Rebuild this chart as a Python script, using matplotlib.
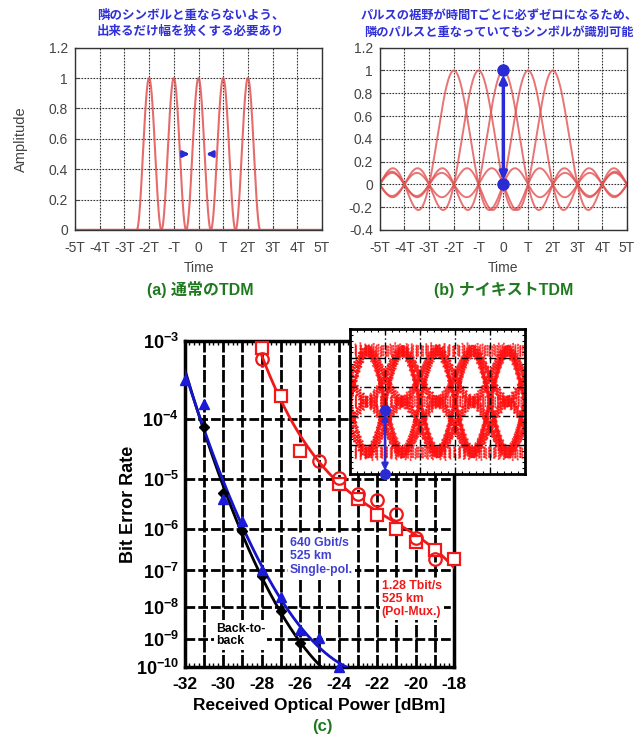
import numpy as np
import matplotlib
matplotlib.use('Agg')
import matplotlib.pyplot as plt
from matplotlib.ticker import FixedLocator, NullLocator, MultipleLocator

plt.rcParams['font.family'] = ['Liberation Sans', 'Noto Sans CJK JP', 'DejaVu Sans']
plt.rcParams['mathtext.fontset'] = 'custom'
plt.rcParams['mathtext.rm'] = 'Liberation Sans'
plt.rcParams['mathtext.bf'] = 'Liberation Sans:bold'

# ---------------- data: panels (a) and (b) ----------------
pulse_centers = [-2, -1, 0, 1, 2]
time_ticks = [-5, -4, -3, -2, -1, 0, 1, 2, 3, 4, 5]
time_labels = ['-5T', '-4T', '-3T', '-2T', '-T', '0', 'T', '2T', '3T', '4T', '5T']
a_yticks = [0, 0.2, 0.4, 0.6, 0.8, 1, 1.2]
a_ylabels = ['0', '0.2', '0.4', '0.6', '0.8', '1', '1.2']
b_yticks = [-0.4, -0.2, 0, 0.2, 0.4, 0.6, 0.8, 1, 1.2]
b_ylabels = ['-0.4', '-0.2', '0', '0.2', '0.4', '0.6', '0.8', '1', '1.2']
pulse_halfwidth = 0.5
nyquist_period = 10
note_a = ['隣のシンボルと重ならないよう、', '出来るだけ幅を狭くする必要あり']
note_b = ['パルスの裾野が時間Tごとに必ずゼロになるため、', '隣のパルスと重なっていてもシンボルが識別可能']
caption_a = '(a) 通常のTDM'
caption_b = '(b) ナイキストTDM'

# ---------------- data: panel (c) ----------------
power_b2b = [-31, -30, -29, -28, -27, -26]
ber_b2b = [7.6e-5, 5.4e-6, 8.9e-7, 7.4e-8, 7.4e-9, 7.0e-10]
power_sp = [-32, -31, -30, -29, -28, -27, -26, -25, -24]
ber_sp = [3.4e-4, 1.6e-4, 4.2e-6, 1.5e-6, 1.0e-7, 1.9e-8, 1.9e-9, 1.07e-9, 1.0e-10]
power_pm_sq = [-28, -27, -26, -24, -23, -22, -21, -20, -19, -18]
ber_pm_sq = [8.3e-4, 2.06e-4, 3.1e-5, 8.3e-6, 4.2e-6, 2.0e-6, 1.0e-6, 4.9e-7, 3.2e-7, 2.0e-7]
power_pm_ci = [-28, -25, -24, -23, -22, -21, -20, -19]
ber_pm_ci = [6.2e-4, 2.07e-5, 1.05e-5, 5.3e-6, 4.0e-6, 2.1e-6, 6.3e-7, 2.0e-7]
power_ticks = [-32, -30, -28, -26, -24, -22, -20, -18]
ber_exponents = [-3, -4, -5, -6, -7, -8, -9, -10]
eye_symbols = [0, 0, 0, 1, 0, 0, 2, 0, 1, 1, 0, 1, 2, 0, 2, 1, 0, 2, 2, 1, 1, 1, 2, 1, 2, 2, 2]
eye_window = 5

RED = '#e25252'
BLUE_T = '#3030d8'
GREEN = '#1f7a1f'
GRAY = '#444444'

fig = plt.figure(figsize=(6.44, 7.40), dpi=100)

def fx(px):
    return px / 644.0

def fy(py):
    return 1 - py / 740.0

# ---------------- top panels ----------------
t = np.linspace(-5, 5, 2001)
axa = fig.add_axes([fx(75), fy(230), fx(247), (230 - 47.7) / 740])
axb = fig.add_axes([fx(379.7), fy(230), fx(247.3), (230 - 47.7) / 740])

for c in pulse_centers:
    d = t - c
    ya = np.where(np.abs(d) < pulse_halfwidth, np.cos(np.pi * d / (2 * pulse_halfwidth)) ** 2, 0.0)
    axa.plot(t, ya, color=RED, lw=1.5, alpha=0.85)
    s = np.sin(np.pi * d)
    den = nyquist_period * np.sin(np.pi * d / nyquist_period)
    yb = np.where(np.abs(den) < 1e-9, 1.0, s / np.where(np.abs(den) < 1e-9, 1, den))
    axb.plot(t, yb, color=RED, lw=1.4, alpha=0.8)

for ax, yt, yl, ylim in [(axa, a_yticks, a_ylabels, (0, 1.2)), (axb, b_yticks, b_ylabels, (-0.4, 1.2))]:
    ax.set_xlim(-5, 5)
    ax.set_ylim(*ylim)
    ax.set_xticks(time_ticks)
    ax.set_xticklabels(time_labels)
    ax.set_yticks(yt)
    ax.set_yticklabels(yl)
    ax.tick_params(direction='in', length=3, colors=GRAY, labelsize=10)
    ax.tick_params(axis='x', pad=8)
    ax.tick_params(axis='y', pad=5)
    ax.grid(True, color='#333333', lw=0.8, linestyle=(0, (1.5, 1.2)))
    for sp in ax.spines.values():
        sp.set_color('#333333')
        sp.set_linewidth(1.0)
    ax.set_xlabel('Time', color=GRAY, fontsize=10, labelpad=4)

axa.set_ylabel('Amplitude', color=GRAY, fontsize=10.5, labelpad=15)

axa.annotate('', xy=(-0.25, 0.5), xytext=(-0.72, 0.5),
             arrowprops=dict(arrowstyle='-|>', color='#2b2bd6', lw=2, mutation_scale=9))
axa.annotate('', xy=(0.2, 0.5), xytext=(0.66, 0.5),
             arrowprops=dict(arrowstyle='-|>', color='#2b2bd6', lw=2, mutation_scale=9))

axb.annotate('', xy=(0, 0.985), xytext=(0, 0.015),
             arrowprops=dict(arrowstyle='<|-|>', color='#2b2bd6', lw=2.5, mutation_scale=11))
axb.plot([0, 0], [0, 1], 'o', color='#2b2bd6', ms=8, zorder=5)

for i, line in enumerate(note_a):
    fig.text(fx(191), fy(15 + 16.5 * i), line, ha='center', va='center', color=BLUE_T,
             fontsize=9.0, fontweight='bold', family=['Noto Sans CJK JP', 'DejaVu Sans'])
for i, line in enumerate(note_b):
    fig.text(fx(499), fy(15 + 17.0 * i), line, ha='center', va='center', color=BLUE_T,
             fontsize=8.8, fontweight='bold', family=['Noto Sans CJK JP', 'DejaVu Sans'])

fig.text(fx(200), fy(290), caption_a, ha='center', va='center', color=GREEN,
         fontsize=11.5, fontweight='bold', family=['Liberation Sans', 'Noto Sans CJK JP'])
fig.text(fx(504), fy(290), caption_b, ha='center', va='center', color=GREEN,
         fontsize=11.5, fontweight='bold', family=['Liberation Sans', 'Noto Sans CJK JP'])

# ---------------- panel (c) ----------------
def fwd(x):
    x = np.clip(np.asarray(x, dtype=float), 1e-300, 0.999999)
    return -np.log10(-np.log10(x))

def inv(y):
    return 10.0 ** (-(10.0 ** (-np.asarray(y, dtype=float))))

axc = fig.add_axes([fx(184.5), fy(667.3), fx(269.5), (667.3 - 340.5) / 740])
axc.set_yscale('function', functions=(fwd, inv))
axc.set_xlim(-32, -18)
axc.set_ylim(1e-10, 1e-3)

for xv in range(-31, -18):
    axc.axvline(xv, color='black', lw=2, linestyle=(0, (4.5, 0.9)), zorder=1)
for e in ber_exponents[1:-1]:
    axc.axhline(10.0 ** e, color='black', lw=2, linestyle=(0, (3.5, 1.1)), zorder=1)

def fit_curve(px, py, deg, x0, x1):
    g = np.log10(-np.log10(np.asarray(py)))
    coef = np.polyfit(px, g, deg)
    xs = np.linspace(x0, x1, 300)
    gs = np.polyval(coef, xs)
    return xs, 10.0 ** (-(10.0 ** gs))

xs, ys = fit_curve(power_b2b, ber_b2b, 2, -32.3, -24)
axc.plot(xs, ys, color='black', lw=2, zorder=3)
axc.plot(power_b2b, ber_b2b, 'D', color='black', ms=5.5, zorder=4, clip_on=False)

xs, ys = fit_curve(power_sp, ber_sp, 2, -32, -23.5)
axc.plot(xs, ys, color='#1414c8', lw=2, zorder=3)
axc.plot(power_sp, ber_sp, '^', color='#1a1ad8', ms=7, zorder=4, clip_on=False)

xs, ys = fit_curve(power_pm_sq + power_pm_ci, ber_pm_sq + ber_pm_ci, 3, -28, -18)
axc.plot(xs, ys, color='#f01818', lw=2, zorder=3)
axc.plot(power_pm_sq, ber_pm_sq, 's', mfc='white', mec='#f01818', mew=1.6, ms=8, zorder=4, clip_on=False)
axc.plot(power_pm_ci, ber_pm_ci, 'o', mfc='none', mec='#f01818', mew=1.6, ms=9, zorder=4, clip_on=False)

axc.xaxis.set_major_locator(FixedLocator(power_ticks))
axc.xaxis.set_minor_locator(MultipleLocator(0.25))
axc.set_xticklabels([str(v) for v in power_ticks])
axc.yaxis.set_major_locator(FixedLocator([10.0 ** e for e in ber_exponents]))
axc.yaxis.set_minor_locator(NullLocator())
axc.set_yticklabels([r'$\mathbf{10^{%d}}$' % e for e in ber_exponents])
axc.tick_params(axis='x', which='major', direction='in', length=0, labelsize=12.5, pad=7, top=False)
axc.tick_params(axis='x', which='minor', direction='in', length=3, width=1, top=True, bottom=True)
axc.tick_params(axis='y', which='major', direction='in', length=0, labelsize=13, pad=4)
for lab in axc.get_xticklabels():
    lab.set_fontweight('bold')
for sp in axc.spines.values():
    sp.set_linewidth(2.5)

axc.set_xlabel('Received Optical Power [dBm]', fontsize=12.5, fontweight='bold', labelpad=4)
axc.set_ylabel('Bit Error Rate', fontsize=13, fontweight='bold', labelpad=-1)

box = dict(facecolor='white', edgecolor='none', pad=1.5)
axc.text(0.391, 0.399, '640 Gbit/s\n525 km\nSingle-pol.', transform=axc.transAxes,
         ha='left', va='top', color='#4040d0', fontsize=8.8, fontweight='bold', linespacing=1.15,
         zorder=6, bbox=box)
axc.text(0.117, 0.137, 'Back-to-\nback', transform=axc.transAxes,
         ha='left', va='top', color='black', fontsize=8.8, fontweight='bold', linespacing=1.1,
         zorder=6, bbox=box)
axc.text(0.732, 0.268, '1.28 Tbit/s\n525 km\n(Pol-Mux.)', transform=axc.transAxes,
         ha='left', va='top', color='#f01818', fontsize=8.8, fontweight='bold', linespacing=1.15,
         zorder=6, bbox=box)

fig.text(fx(322), fy(727), '(c)', ha='center', va='center', color=GREEN,
         fontsize=12, fontweight='bold')

# ---------------- inset eye diagram ----------------
axi = fig.add_axes([fx(350), fy(474), fx(175), (474 - 329.3) / 740])
axi.set_facecolor('white')
nb = len(eye_symbols)
tt = np.linspace(0, nb, nb * 80, endpoint=False)
wave = np.zeros_like(tt)
for k, a in enumerate(eye_symbols):
    d = ((tt - k + nb / 2) % nb) - nb / 2
    den = 1 - (2 * d) ** 2
    safe = np.where(np.abs(den) < 1e-6, 1, den)
    p = np.where(np.abs(den) < 1e-6, 0.5, np.sinc(d) * np.cos(np.pi * d) / safe)
    wave += a * p
wave_ext = np.concatenate([wave, wave])
tt_ext = np.concatenate([tt, tt + nb])
for s in range(nb):
    m = (tt_ext >= s - 0.5) & (tt_ext <= s + eye_window - 0.5)
    xx = tt_ext[m] - s + 0.5
    yy = 0.15 + 0.35 * wave_ext[m]
    for off in (-0.03, -0.01, 0.01, 0.03):
        axi.plot(xx, yy + off, color='#ff1010', lw=1.8, alpha=0.8, linestyle=(0, (0.7, 1.3)))
axi.set_xlim(0, eye_window)
axi.set_ylim(0, 1)
axi.set_xticks([1, 2, 3, 4])
axi.set_yticks([0.2, 0.4, 0.6, 0.8])
axi.xaxis.set_minor_locator(MultipleLocator(0.2))
axi.yaxis.set_minor_locator(MultipleLocator(0.04))
axi.tick_params(which='both', direction='in', labelbottom=False, labelleft=False,
                top=True, right=True, length=2, width=0.8)
axi.grid(True, color='black', lw=1, linestyle=(0, (5, 2, 1, 2)))
axi.set_axisbelow(False)
for sp in axi.spines.values():
    sp.set_linewidth(2)
axi.annotate('', xy=(1, 0.005), xytext=(1, 0.435),
             arrowprops=dict(arrowstyle='<|-|>', color='#2b2bd6', lw=1.8, mutation_scale=9), zorder=6)
axi.plot([1, 1], [0, 0.44], 'o', color='#2b2bd6', ms=7, zorder=7, clip_on=False)

fig.savefig('out.png', dpi=100, facecolor='white')
